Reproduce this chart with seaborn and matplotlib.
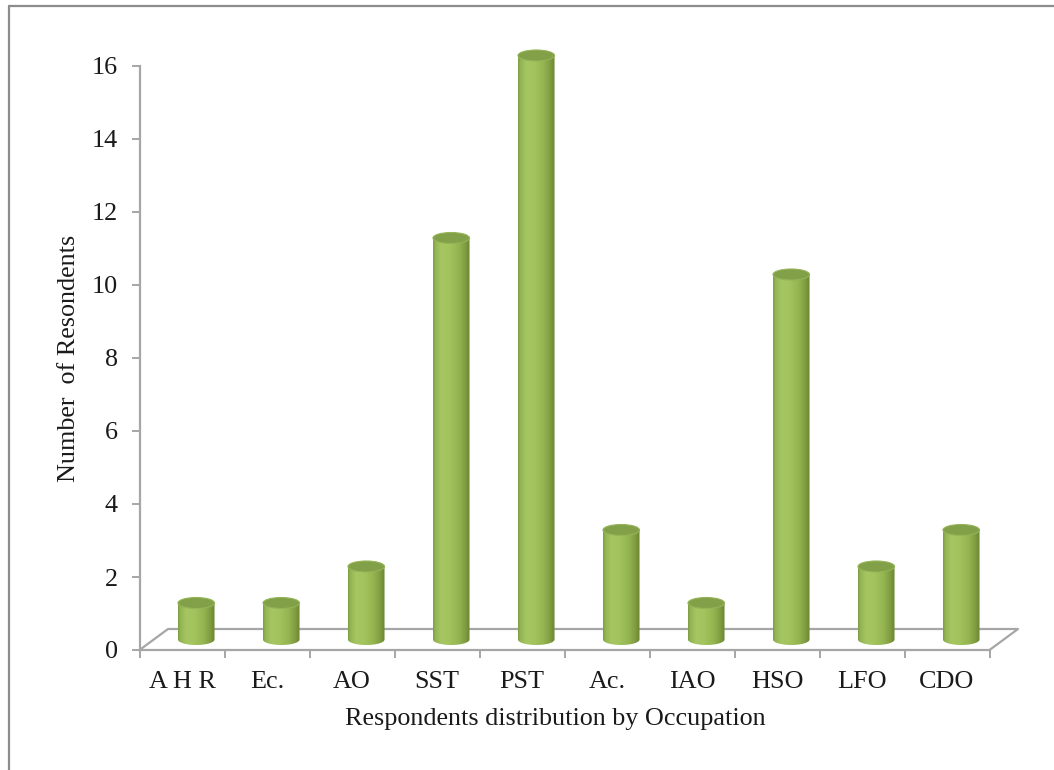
import numpy as np
import pandas as pd
import matplotlib
matplotlib.use("Agg")
import matplotlib.pyplot as plt
import seaborn as sns
from matplotlib.colors import LinearSegmentedColormap
from matplotlib.patches import PathPatch, Ellipse
from matplotlib.path import Path
from matplotlib.lines import Line2D

# ---- data -------------------------------------------------------------
occupations = ["A H R", "Ec.", "AO", "SST", "PST", "Ac.", "IAO", "HSO", "LFO", "CDO"]
respondents = [1, 1, 2, 11, 16, 3, 1, 10, 2, 3]
y_ticks = list(range(0, 17, 2))

df = pd.DataFrame({"Occupation": occupations, "Respondents": respondents})

# ---- style ------------------------------------------------------------
sns.set_theme(style="white")
plt.rcParams["font.family"] = ["Liberation Serif", "DejaVu Serif"]
FS = 18.8
AXIS_GREY = "#a6a6a6"
TEXT = "#1a1a1a"

W, H, DPI = 1054, 770, 100
fig = plt.figure(figsize=(W / DPI, H / DPI), dpi=DPI)
fig.patch.set_facecolor("white")

# outer frame (top and left edges)
frame_kw = dict(color="#8c8c8c", lw=1.6, transform=fig.transFigure)
fig.add_artist(Line2D([9 / W, 1], [1 - 6 / H, 1 - 6 / H], **frame_kw))
fig.add_artist(Line2D([9 / W, 9 / W], [0, 1 - 6 / H], **frame_kw))

# front plane: value axis and category axis
n = len(occupations)
px_unit = 36.5           # pixels per respondent
x_left, x_right = 139.5, 989.5
px_cat = (x_right - x_left) / n
y_zero = 650.0
ax = fig.add_axes([x_left / W, (H - y_zero) / H,
                   (x_right - x_left) / W, 16 * px_unit / H])
ax.set_xlim(-0.5, n - 0.5)
ax.set_ylim(0, 16)
ax.set_facecolor("none")
for s in ("top", "right"):
    ax.spines[s].set_visible(False)
for s in ("left", "bottom"):
    ax.spines[s].set_color(AXIS_GREY)
    ax.spines[s].set_linewidth(1.6)

ax.set_yticks(y_ticks)
ax.set_yticklabels([str(t) for t in y_ticks])
ax.tick_params(axis="y", direction="out", length=5.5, width=1.4,
               color=AXIS_GREY, labelsize=FS, labelcolor=TEXT, pad=10, left=True)

ax.set_xticks(np.arange(-0.5, n), labels=[])
ax.set_xticks(np.arange(n), labels=occupations, minor=True)
ax.tick_params(axis="x", which="major", direction="out", length=6, width=1.4,
               color=AXIS_GREY, bottom=True)
ax.tick_params(axis="x", which="minor", length=0, labelsize=FS,
               labelcolor=TEXT, pad=15, bottom=True)

ax.set_ylabel("Number  of Resondents", fontsize=FS, color=TEXT)
ax.yaxis.set_label_coords((80 - x_left) / (x_right - x_left), 0.5)
ax.set_xlabel("Respondents distribution by Occupation", fontsize=FS, color=TEXT)
ax.xaxis.set_label_coords((555.5 - x_left) / (x_right - x_left),
                          (y_zero - 708) / (16 * px_unit))

# floor of the 3-D plot: back edge pushed back by the depth
depth_dx, depth_dy = 28.5, 21.0
ddx, ddy = depth_dx / px_cat, depth_dy / px_unit
x0f, x1f = -0.5, n - 0.5
floor_kw = dict(color=AXIS_GREY, lw=1.6, clip_on=False,
                solid_capstyle="projecting", zorder=1)
ax.plot([x0f, x0f + ddx, x1f + ddx, x1f], [0, ddy, ddy, 0], **floor_kw)

# bars sit at mid depth of the floor
mid_dx, mid_dy = depth_dx / 2, depth_dy / 2
lo, hi = -1.0, 16.6
bx = fig.add_axes([(x_left + mid_dx) / W,
                   (H - (y_zero - mid_dy) - (-lo) * px_unit) / H,
                   (x_right - x_left) / W,
                   (hi - lo) * px_unit / H])
bx.set_facecolor("none")

sns.barplot(data=df, x="Occupation", y="Respondents", ax=bx, width=0.43,
            color="#9bbb59", saturation=1, edgecolor="none")

cyl = LinearSegmentedColormap.from_list("cyl", [
    (0.00, "#7d9a44"), (0.06, "#93b452"), (0.22, "#a5c661"), (0.45, "#a2c35d"),
    (0.70, "#93b450"), (0.88, "#7f9c40"), (1.00, "#6a8530")])
grad = cyl(np.linspace(0, 1, 256))[None, :, :]

eh = 11 / px_unit     # ellipse height in data units
for p in list(bx.patches):
    x0, w, h = p.get_x(), p.get_width(), p.get_height()
    cx = x0 + w / 2
    p.set_visible(False)
    t = np.linspace(np.pi, 2 * np.pi, 60)
    verts = [(x0, h), (x0, 0)] + list(zip(cx + w / 2 * np.cos(t),
                                          eh / 2 * np.sin(t))) + [(x0 + w, h), (x0, h)]
    body = PathPatch(Path(verts, closed=True), transform=bx.transData,
                     facecolor="none", edgecolor="none")
    bx.add_patch(body)
    im = bx.imshow(grad, extent=(x0, x0 + w, -eh / 2, h), aspect="auto",
                   interpolation="bicubic", zorder=2)
    im.set_clip_path(body)
    cap = Ellipse((cx, h), w, eh, facecolor="#82a048",
                  edgecolor="#95b457", lw=0.8, zorder=3)
    bx.add_patch(cap)

bx.set_xlim(-0.5, n - 0.5)
bx.set_ylim(lo, hi)
bx.set_axis_off()

fig.savefig("out.png", dpi=DPI, facecolor="white")
